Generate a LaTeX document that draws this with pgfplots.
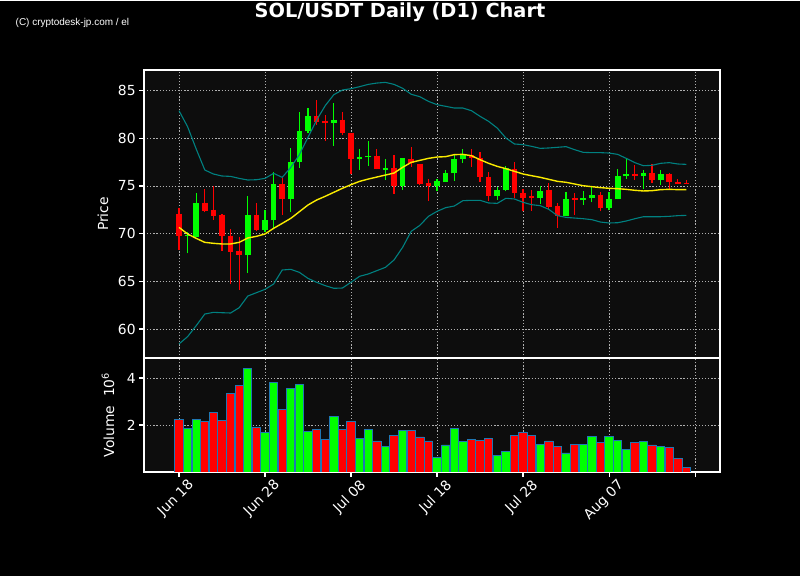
\documentclass[border=0pt]{standalone}
\usepackage{fontspec}
\setmainfont{DejaVu Sans}
\newfontfamily\wmfont{Liberation Sans}
\usepackage{pgfplots}
\pgfplotsset{compat=1.18}
\usepackage{pgfplotstable}

\definecolor{cgreen}{RGB}{0,255,0}
\definecolor{cred}{RGB}{255,0,0}
\definecolor{axbg}{RGB}{13,13,13}
\definecolor{band}{RGB}{0,128,128}
\definecolor{sma}{RGB}{250,235,0}
\definecolor{edgec}{RGB}{31,119,180}
\definecolor{gridc}{RGB}{176,176,176}

\pgfplotstableread{
d o h l c v
1 69.72 70.14 67.94 69.90 1.86
2 69.69 74.27 69.69 73.25 2.24
8 67.73 73.99 65.87 71.99 4.40
10 70.42 72.48 70.14 71.47 1.69
11 71.40 76.43 70.49 75.24 3.82
13 73.60 78.99 72.24 77.55 3.57
14 77.48 82.80 76.89 80.80 3.74
15 80.73 83.22 80.52 82.38 1.74
18 81.57 83.71 79.20 81.96 2.36
21 77.80 78.88 76.68 78.08 1.44
22 78.01 79.76 77.10 78.18 1.82
24 76.71 77.83 75.63 76.92 1.07
26 74.97 77.90 74.58 77.90 1.78
30 75.03 75.73 74.51 75.56 0.61
31 75.45 76.68 75.45 76.40 1.15
32 76.33 78.22 75.56 77.87 1.86
33 77.80 78.88 77.45 78.22 1.28
37 73.92 74.86 73.53 74.62 0.69
38 74.55 77.10 74.44 76.89 0.86
42 73.71 75.03 73.11 74.51 1.19
45 71.89 74.41 71.89 73.67 0.81
47 73.50 74.48 73.01 73.78 1.19
48 73.71 74.86 73.29 74.09 1.53
50 72.66 74.41 72.45 73.67 1.53
51 73.60 76.78 73.60 76.08 1.36
52 76.01 77.80 75.73 76.29 0.94
54 76.01 76.68 74.69 76.40 1.28
56 75.59 76.68 75.14 76.29 1.07
}\greenT

\pgfplotstableread{
d o h l c v
0 72.10 72.73 68.29 69.72 2.24
3 73.25 74.69 72.24 72.41 2.13
4 72.52 74.97 71.43 71.89 2.53
5 71.99 72.06 68.18 69.72 2.19
6 69.79 70.49 64.72 68.04 3.36
7 68.22 69.62 64.09 67.73 3.69
9 71.99 73.22 70.24 70.42 1.89
12 75.24 75.84 71.96 73.60 2.65
16 82.38 84.02 81.43 81.75 1.82
17 81.85 82.45 79.76 81.57 1.40
19 81.96 82.76 80.38 80.52 1.82
20 80.59 80.59 76.26 77.80 2.15
23 78.18 78.88 76.75 76.75 1.32
25 76.92 78.25 74.16 74.97 1.57
27 77.87 79.09 77.03 77.38 1.78
28 77.34 77.34 75.14 75.24 1.49
29 75.35 75.73 73.43 75.03 1.32
34 78.22 78.88 77.03 77.94 1.40
35 77.94 78.57 75.42 75.91 1.33
36 75.98 76.47 73.43 73.95 1.44
39 76.78 77.52 73.78 74.23 1.57
40 74.30 74.69 72.34 73.78 1.69
41 73.92 74.58 72.41 73.71 1.57
43 74.62 75.31 72.59 72.83 1.32
44 72.94 73.18 70.59 71.89 1.07
46 73.71 74.30 71.96 73.50 1.19
49 74.09 74.34 72.34 72.66 1.24
53 76.29 77.20 75.63 76.01 1.24
55 76.40 77.31 75.31 75.59 1.15
57 76.29 76.40 74.72 75.38 1.03
58 75.45 75.73 75.24 75.24 0.57
59 75.35 75.63 75.17 75.24 0.19
}\redT

\pgfplotstableread{
d mid up lo
0 70.66 82.90 58.43
1 69.97 81.22 59.20
2 69.51 78.88 60.35
3 69.09 76.68 61.57
4 68.99 76.26 61.75
5 68.92 76.05 61.71
6 68.92 76.01 61.68
7 69.09 75.80 62.24
8 69.55 75.63 63.46
9 69.72 75.66 63.81
10 69.97 75.80 64.16
11 70.56 76.33 64.72
12 71.08 75.91 66.19
13 71.61 76.96 66.26
14 72.31 78.29 65.94
15 73.01 80.11 65.31
16 73.53 81.92 64.90
17 73.92 83.43 64.55
18 74.34 84.58 64.27
19 74.76 85.07 64.30
20 75.14 85.21 64.90
21 75.49 85.42 65.53
22 75.73 85.66 65.77
23 75.94 85.80 66.12
24 76.15 85.87 66.47
25 76.36 85.66 67.24
26 76.96 85.25 68.57
27 77.48 84.62 70.25
28 77.69 84.37 70.87
29 77.90 83.88 71.82
30 78.04 83.53 72.34
31 78.08 83.36 72.73
32 78.29 83.18 72.90
33 78.32 83.18 73.46
34 78.18 82.90 73.50
35 77.76 82.31 73.50
36 77.38 81.78 73.22
37 77.06 81.08 73.18
38 76.82 80.04 73.71
39 76.54 79.41 73.64
40 76.26 79.34 73.29
41 76.08 79.16 73.04
42 75.91 78.95 72.94
43 75.70 78.99 72.55
44 75.49 79.06 71.89
45 75.39 79.13 71.71
46 75.21 78.81 71.64
47 75.03 78.53 71.57
48 74.93 78.50 71.47
49 74.83 78.50 71.22
50 74.76 78.46 71.12
51 74.72 78.32 71.15
52 74.65 77.90 71.33
53 74.55 77.45 71.57
54 74.48 77.13 71.78
55 74.51 77.17 71.78
56 74.62 77.38 71.78
57 74.65 77.45 71.82
58 74.62 77.31 71.89
59 74.62 77.27 71.92
}\bandT

\pgfplotsset{
  base/.style={
    scale only axis, width=576bp, xmin=-4.07, xmax=62.9,
    axis background/.style={fill=axbg},
    axis line style={white, line width=1.1bp},
    tick style={white, line width=1.1bp},
    major tick length=4.9bp,
    tick align=outside,
    xtick pos=left, ytick pos=left,
    grid=major,
    major grid style={gridc, line width=0.9bp, dash pattern=on 1.2bp off 1.9bp},
    ticklabel style={font=\fontsize{13.9}{16}\selectfont, text=white},
    /pgf/number format/assume math mode=true,
    xtick={0,10,20,30,40,50,60},
  },
}

\begin{document}
\begin{tikzpicture}
\fill[black] (0,0) rectangle (800bp,575bp);

\begin{axis}[base, at={(144bp,218bp)}, anchor=south west, height=288bp,
  ymin=56.96, ymax=87.17, ytick={60,65,70,75,80,85}, xticklabels={},
  xtick style={draw=none}]
% wicks
\addplot[cgreen, line width=1.2bp, mark=none, forget plot,
  quiver={u=0, v=\thisrow{h}-\thisrow{l}}] table[x=d, y=l] {\greenT};
\addplot[cred, line width=1.2bp, mark=none, forget plot,
  quiver={u=0, v=\thisrow{h}-\thisrow{l}}] table[x=d, y=l] {\redT};
% bodies
\addplot[cgreen, line width=5.7bp, mark=none, forget plot,
  quiver={u=0, v=\thisrow{c}-\thisrow{o}}] table[x=d, y=o] {\greenT};
\addplot[cred, line width=5.7bp, mark=none, forget plot,
  quiver={u=0, v=\thisrow{c}-\thisrow{o}}] table[x=d, y=o] {\redT};
% bands and SMA
\addplot[band, line width=1.1bp, mark=none] table[x=d, y=up] {\bandT};
\addplot[band, line width=1.1bp, mark=none] table[x=d, y=lo] {\bandT};
\addplot[sma, line width=1.4bp, mark=none] table[x=d, y=mid] {\bandT};
\end{axis}

\begin{axis}[base, at={(144bp,104bp)}, anchor=south west, height=114bp,
  ymin=0, ymax=4.85, ytick={2,4},
  xticklabels={Jun 18,Jun 28,Jul 08,Jul 18,Jul 28,Aug 07,{}},
  xticklabel style={rotate=45, anchor=north east, xshift=8bp, yshift=-3bp},
  ybar, bar width=0.96, bar shift=0pt]
\addplot[fill=cgreen, draw=edgec, line width=0.9bp] table[x=d, y=v] {\greenT};
\addplot[fill=cred, draw=edgec, line width=0.9bp] table[x=d, y=v] {\redT};
\end{axis}

\node[text=white, rotate=90, font=\fontsize{13.9}{16}\selectfont] at (103bp,362bp) {Price};
\node[text=white, rotate=90, font=\fontsize{13.9}{16}\selectfont] at (108bp,161bp) {Volume\ \ 10\textsuperscript{6}};
\node[text=white, anchor=base, font=\fontsize{19.4}{22}\selectfont\bfseries] at (400bp,558bp) {SOL/USDT Daily (D1) Chart};
\node[text=white, anchor=base west, inner sep=0pt, font=\wmfont\fontsize{10}{12}\selectfont] at (15.5bp,550.5bp) {(C) cryptodesk-jp.com / el};
\end{tikzpicture}
\end{document}
